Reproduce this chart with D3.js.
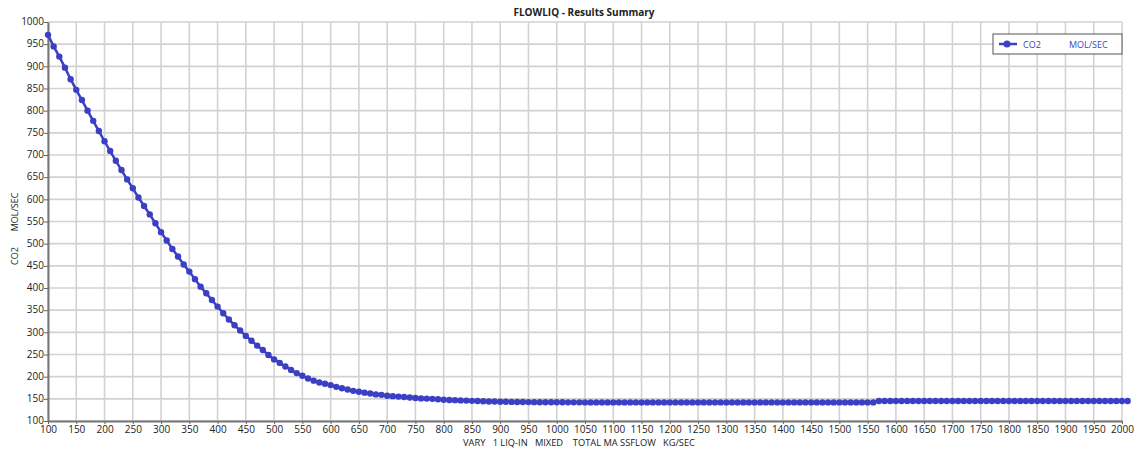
<!DOCTYPE html>
<html>
<head>
<meta charset="utf-8">
<script src="https://cdn.jsdelivr.net/npm/d3@7"></script>
<style>
  html, body { margin: 0; padding: 0; background: #fff; }
  svg { display: block; font-family: "Open Sans", "DejaVu Sans", sans-serif; }
</style>
</head>
<body>
<svg id="chart" width="1137" height="450"></svg>
<script>
// Sweep of total liquid mass flow (KG/SEC), one case every 10 units
const flowStart = 100;
const flowStep = 10;

// CO2 flow (MOL/SEC) for each case, 100 .. 2000
const co2Values = [
  971, 945, 922, 897, 871, 847, 824, 800, 777, 754,           // 100-190
  731, 709, 687, 666, 645, 625, 604, 585, 566, 546,           // 200-290
  526, 507, 488, 471, 453, 437, 420, 403, 388, 373,           // 300-390
  358, 343, 329, 316, 304, 292, 281, 270, 260, 249,           // 400-490
  239, 231, 223, 215, 208, 202, 196, 191, 187, 184,           // 500-590
  181, 177, 174, 171, 168, 166, 164, 162, 160, 159,           // 600-690
  157, 156, 155, 154, 153, 152, 151, 150.5, 150, 149,         // 700-790
  148, 147.5, 147, 146.5, 146, 145.5, 145, 144.5, 144, 144,   // 800-890
  143.5, 143.3, 143.1, 143, 142.8, 142.6, 142.5, 142.4, 142.3, 142.3, // 900-990
  142.2, 142.2, 142.1, 142.1, 142.1, 142, 142, 142, 142, 142,         // 1000-1090
  142, 142, 142, 142, 142, 142, 142, 142, 142, 142,                   // 1100-1190
  142, 142, 142, 142, 142, 142, 142, 142, 142, 142,                   // 1200-1290
  142, 142, 142, 142, 142, 142, 142, 142, 142, 142,                   // 1300-1390
  142, 142, 142, 142, 142, 142, 142, 142, 142, 142,                   // 1400-1490
  142, 142, 142, 142, 142, 142, 142,                                  // 1500-1560
  145, 145, 145, 145.1, 145.1, 145.1, 145.1, 145.1, 145.1, 145.1,     // 1570-1660
  145.1, 145.1, 145.1, 145.1, 145.1, 145.1, 145.1, 145.1, 145.1, 145.1, // 1670-1760
  145.1, 145.1, 145.1, 145.1, 145.1, 145.1, 145.1, 145.1, 145.1, 145.1, // 1770-1860
  145.1, 145.1, 145.1, 145.1, 145.1, 145.1, 145.1, 145.1, 145.1, 145.1, // 1870-1960
  145.1, 145.1, 145.1, 145.1, 145.1                                   // 1970-2000
];

const xTicks = d3.range(100, 2001, 50);
const yTicks = d3.range(100, 1001, 50);

const chartTitle = "FLOWLIQ - Results Summary";
const xLabel = "VARY   1 LIQ-IN   MIXED    TOTAL MA SSFLOW   KG/SEC";
const yLabelName = "CO2";
const yLabelUnit = "MOL/SEC";
const legendName = "CO2";
const legendUnit = "MOL/SEC";

const data = co2Values.map((v, i) => ({ x: flowStart + i * flowStep, y: v }));

const svg = d3.select("#chart");
const margin = { left: 48, right: 15, top: 22, bottom: 29 };
const W = 1137, H = 450;

const x = d3.scaleLinear().domain([100, 2000]).range([margin.left, W - margin.right]);
const y = d3.scaleLinear().domain([100, 1000]).range([H - margin.bottom, margin.top]);

const lineColor = "#3b3fc4";

// grid
const grid = svg.append("g");
grid.selectAll("line.v").data(xTicks).join("line")
  .attr("x1", d => x(d)).attr("x2", d => x(d))
  .attr("y1", y(1000)).attr("y2", y(100))
  .attr("stroke", "#d2d2d2").attr("stroke-width", 1.6);
grid.selectAll("line.h").data(yTicks).join("line")
  .attr("y1", d => y(d)).attr("y2", d => y(d))
  .attr("x1", x(100)).attr("x2", x(2000))
  .attr("stroke", "#d2d2d2").attr("stroke-width", 1.6);

// axes
const xAxis = svg.append("g")
  .attr("transform", `translate(0,${y(100)})`)
  .call(d3.axisBottom(x).tickValues(xTicks).tickSize(3).tickSizeOuter(0).tickFormat(d3.format("d")));
const yAxis = svg.append("g")
  .attr("transform", `translate(${x(100)},0)`)
  .call(d3.axisLeft(y).tickValues(yTicks).tickSize(4).tickSizeOuter(0).tickFormat(d3.format("d")));

[xAxis, yAxis].forEach(g => {
  g.select(".domain").attr("stroke", "#777").attr("stroke-width", 2);
  g.selectAll(".tick line").attr("stroke", "#666").attr("stroke-width", 1);
  g.selectAll(".tick text")
    .attr("fill", "#222")
    .style("font-size", "10px")
    .style("font-family", "'Open Sans', 'DejaVu Sans', sans-serif");
});
xAxis.selectAll(".tick text").attr("dy", "0.6em").attr("y", 6);
yAxis.selectAll(".tick text").attr("x", -4).attr("dy", "0.28em");

// title
svg.append("text")
  .attr("x", 584).attr("y", 16)
  .attr("text-anchor", "middle")
  .style("font-size", "10px").style("font-weight", "bold")
  .attr("fill", "#222")
  .text(chartTitle);

// x axis title
svg.append("text")
  .attr("x", 579).attr("y", 446)
  .attr("text-anchor", "middle")
  .style("font-size", "9.3px")
  .style("white-space", "pre")
  .attr("xml:space", "preserve")
  .attr("fill", "#222")
  .text(xLabel);

// y axis title (name and unit)
svg.append("text")
  .attr("transform", "translate(18,256) rotate(-90)")
  .attr("text-anchor", "middle")
  .style("font-size", "9px").attr("fill", "#222")
  .text(yLabelName);
svg.append("text")
  .attr("transform", "translate(18,212) rotate(-90)")
  .attr("text-anchor", "middle")
  .style("font-size", "9px").attr("fill", "#222")
  .text(yLabelUnit);

// series line and markers
const line = d3.line().x(d => x(d.x)).y(d => y(d.y));
svg.append("path")
  .datum(data)
  .attr("fill", "none")
  .attr("stroke", lineColor)
  .attr("stroke-width", 2.5)
  .attr("d", line);
svg.append("g").selectAll("circle").data(data).join("circle")
  .attr("cx", d => x(d.x)).attr("cy", d => y(d.y))
  .attr("r", 3.2)
  .attr("fill", lineColor);

// legend
const lg = svg.append("g").attr("transform", "translate(993,34)");
lg.append("rect")
  .attr("width", 129).attr("height", 20)
  .attr("fill", "#fff").attr("stroke", "#555").attr("stroke-width", 1);
lg.append("line")
  .attr("x1", 6).attr("x2", 24).attr("y1", 10).attr("y2", 10)
  .attr("stroke", lineColor).attr("stroke-width", 2.5);
lg.append("circle").attr("cx", 14).attr("cy", 10).attr("r", 3.5).attr("fill", lineColor);
lg.append("text").attr("x", 30).attr("y", 13.5)
  .style("font-size", "9px").attr("fill", "#3b3fc4").text(legendName);
lg.append("text").attr("x", 76).attr("y", 13.5)
  .style("font-size", "9px").attr("fill", "#3b3fc4").text(legendUnit);
</script>
</body>
</html>
